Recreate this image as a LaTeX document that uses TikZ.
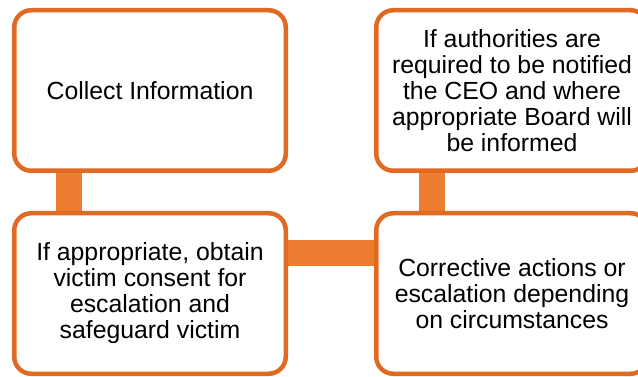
\documentclass[tikz,border=0pt]{standalone}
\usepackage{fontspec}
\setmainfont{Liberation Sans}
\usetikzlibrary{backgrounds}
\definecolor{boxorange}{RGB}{225,106,35}
\definecolor{barorange}{RGB}{237,125,49}
\tikzset{
  stepbox/.style={draw=boxorange, line width=4.5pt, fill=white, rounded corners=17pt,
    minimum width=271.5pt, minimum height=160.5pt, inner sep=0pt, align=center,
    font=\fontsize{24.8}{26}\selectfont},
  bar/.style={draw=barorange, line width=26pt}
}
\begin{document}
\begin{tikzpicture}[x=1pt,y=-1pt]
\useasboundingbox (0,0) rectangle (638,377);
\clip (0,0) rectangle (638,377);
\node[stepbox] (tl) at (150,90.5) {Collect Information};
\node[stepbox] (bl) at (150,293.5) {If appropriate, obtain\\victim consent for\\escalation and\\safeguard victim};
\node[stepbox] (tr) at (512,90.5) {If authorities are\\required to be notified\\the CEO and where\\appropriate Board will\\be informed};
\node[stepbox] (br) at (512,293.5) {Corrective actions or\\escalation depending\\on circumstances};
\begin{scope}[on background layer]
\draw[bar] ([xshift=-81pt]tl.center) -- ([xshift=-81pt]bl.center);
\draw[bar] ([xshift=-80.5pt]tr.center) -- ([xshift=-80.5pt]br.center);
\draw[bar] ([yshift=40.5pt]bl.center) -- ([yshift=40.5pt]br.center);
\end{scope}
\end{tikzpicture}
\end{document}
